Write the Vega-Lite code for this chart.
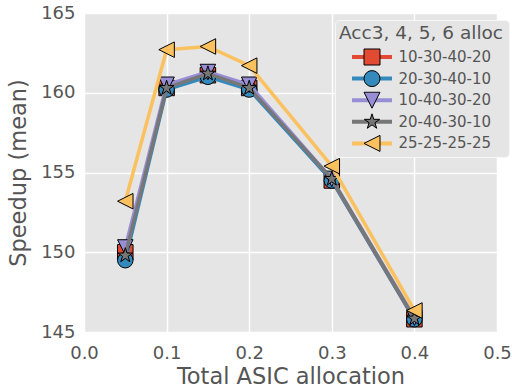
{
  "$schema": "https://vega.github.io/schema/vega-lite/v6.json",
  "width": 413,
  "height": 319,
  "autosize": "none",
  "padding": {"left": 84, "top": 13, "right": 15, "bottom": 55},
  "background": "white",
  "config": {
    "font": "DejaVu Sans",
    "view": {"fill": "#E5E5E5", "stroke": null},
    "axis": {
      "grid": true, "gridColor": "white", "gridWidth": 1.5, "domain": false, "ticks": false,
      "labelFontSize": 18, "labelColor": "#555555", "titleFontSize": 22.5, "titleColor": "#555555",
      "titleFontWeight": "normal", "labelFlush": false, "labelOverlap": false
    },
    "legend": {
      "orient": "none", "legendX": 251, "legendY": 7, "padding": 4,
      "titleFontSize": 18.5, "titleColor": "#555555", "titleFontWeight": "normal", "titlePadding": 5.5,
      "labelFontSize": 15, "labelColor": "#555555", "labelOffset": 18, "symbolOffset": 24.5,
      "rowPadding": 3.6, "clipHeight": 18, "symbolOpacity": 1
    }
  },
  "data": {
    "values": [
      {"x": 0.05, "y": 150.0, "s": "10-30-40-20"},
      {"x": 0.10, "y": 160.3, "s": "10-30-40-20"},
      {"x": 0.15, "y": 161.1, "s": "10-30-40-20"},
      {"x": 0.20, "y": 160.3, "s": "10-30-40-20"},
      {"x": 0.30, "y": 154.5, "s": "10-30-40-20"},
      {"x": 0.40, "y": 145.8, "s": "10-30-40-20"},
      {"x": 0.05, "y": 149.5, "s": "20-30-40-10"},
      {"x": 0.10, "y": 160.2, "s": "20-30-40-10"},
      {"x": 0.15, "y": 161.0, "s": "20-30-40-10"},
      {"x": 0.20, "y": 160.2, "s": "20-30-40-10"},
      {"x": 0.30, "y": 154.5, "s": "20-30-40-10"},
      {"x": 0.40, "y": 145.8, "s": "20-30-40-10"},
      {"x": 0.05, "y": 150.3, "s": "10-40-30-20"},
      {"x": 0.10, "y": 160.5, "s": "10-40-30-20"},
      {"x": 0.15, "y": 161.3, "s": "10-40-30-20"},
      {"x": 0.20, "y": 160.5, "s": "10-40-30-20"},
      {"x": 0.30, "y": 154.6, "s": "10-40-30-20"},
      {"x": 0.40, "y": 145.9, "s": "10-40-30-20"},
      {"x": 0.05, "y": 149.8, "s": "20-40-30-10"},
      {"x": 0.10, "y": 160.3, "s": "20-40-30-10"},
      {"x": 0.15, "y": 161.2, "s": "20-40-30-10"},
      {"x": 0.20, "y": 160.3, "s": "20-40-30-10"},
      {"x": 0.30, "y": 154.6, "s": "20-40-30-10"},
      {"x": 0.40, "y": 145.85, "s": "20-40-30-10"},
      {"x": 0.05, "y": 153.2, "s": "25-25-25-25"},
      {"x": 0.10, "y": 162.7, "s": "25-25-25-25"},
      {"x": 0.15, "y": 162.9, "s": "25-25-25-25"},
      {"x": 0.20, "y": 161.7, "s": "25-25-25-25"},
      {"x": 0.30, "y": 155.4, "s": "25-25-25-25"},
      {"x": 0.40, "y": 146.35, "s": "25-25-25-25"}
    ]
  },
  "encoding": {
    "x": {"field": "x", "type": "quantitative", "scale": {"domain": [0, 0.5], "nice": false, "zero": false},
      "axis": {"title": "Total ASIC allocation", "values": [0, 0.1, 0.2, 0.3, 0.4, 0.5], "format": ".1f", "labelPadding": 12, "titlePadding": 3}},
    "y": {"field": "y", "type": "quantitative", "scale": {"domain": [145, 165], "nice": false, "zero": false},
      "axis": {"title": "Speedup (mean)", "values": [145, 150, 155, 160, 165], "format": "d", "labelPadding": 9, "titlePadding": 10}}
  },
  "layer": [
    {"transform": [{"filter": "datum.s === '10-30-40-20'"}],
     "mark": {"type": "line", "strokeWidth": 3.5, "strokeJoin": "round"},
     "encoding": {"stroke": {"field": "s", "type": "nominal", "scale": {"range": ["#E24A33", "#988ED5", "#348ABD", "#777777", "#FBC15E"]},
       "legend": {"title": "Acc3, 4, 5, 6 alloc", "values": ["10-30-40-20", "20-30-40-10", "10-40-30-20", "20-40-30-10", "25-25-25-25"], "fillColor": "#E5E5E5", "strokeColor": "#F7F7F7", "cornerRadius": 4, "titleColor": "transparent", "labelColor": "transparent", "symbolType": "stroke", "symbolSize": 1600, "symbolStrokeWidth": 4, "symbolOffset": 11}}}},
    {"transform": [{"filter": "datum.s === '10-30-40-20'"}],
     "mark": {"type": "point", "filled": true, "opacity": 1, "stroke": "black", "strokeWidth": 1, "size": 240},
     "encoding": {
       "fill": {"field": "s", "type": "nominal", "scale": {"domain": ["10-30-40-20", "20-30-40-10", "10-40-30-20", "20-40-30-10", "25-25-25-25"], "range": ["#E24A33", "#348ABD", "#988ED5", "#777777", "#FBC15E"]},
         "legend": {"title": "Acc3, 4, 5, 6 alloc", "symbolSize": 256, "symbolStrokeColor": "black", "symbolStrokeWidth": 1}},
       "shape": {"field": "s", "type": "nominal", "scale": {"domain": ["10-30-40-20", "20-30-40-10", "10-40-30-20", "20-40-30-10", "25-25-25-25"], "range": ["square", "circle", "M-1,-1L1,-1L0,1Z", "M0,-1L0.2245,-0.309L0.951,-0.309L0.3633,0.118L0.588,0.809L0,0.382L-0.588,0.809L-0.3633,0.118L-0.951,-0.309L-0.2245,-0.309Z", "M-1,0L1,-1L1,1Z"]}}
     }},
    {"transform": [{"filter": "datum.s === '20-30-40-10'"}],
     "mark": {"type": "line", "strokeWidth": 3.5, "strokeJoin": "round"},
     "encoding": {"stroke": {"field": "s", "type": "nominal"}}},
    {"transform": [{"filter": "datum.s === '20-30-40-10'"}],
     "mark": {"type": "point", "filled": true, "opacity": 1, "stroke": "black", "strokeWidth": 1, "size": 240},
     "encoding": {"fill": {"field": "s", "type": "nominal"}, "shape": {"field": "s", "type": "nominal"}}},
    {"transform": [{"filter": "datum.s === '10-40-30-20'"}],
     "mark": {"type": "line", "strokeWidth": 3.5, "strokeJoin": "round"},
     "encoding": {"stroke": {"field": "s", "type": "nominal"}}},
    {"transform": [{"filter": "datum.s === '10-40-30-20'"}],
     "mark": {"type": "point", "filled": true, "opacity": 1, "stroke": "black", "strokeWidth": 1, "size": 240},
     "encoding": {"fill": {"field": "s", "type": "nominal"}, "shape": {"field": "s", "type": "nominal"}}},
    {"transform": [{"filter": "datum.s === '20-40-30-10'"}],
     "mark": {"type": "line", "strokeWidth": 3.5, "strokeJoin": "round"},
     "encoding": {"stroke": {"field": "s", "type": "nominal"}}},
    {"transform": [{"filter": "datum.s === '20-40-30-10'"}],
     "mark": {"type": "point", "filled": true, "opacity": 1, "stroke": "black", "strokeWidth": 1, "size": 240},
     "encoding": {"fill": {"field": "s", "type": "nominal"}, "shape": {"field": "s", "type": "nominal"}}},
    {"transform": [{"filter": "datum.s === '25-25-25-25'"}],
     "mark": {"type": "line", "strokeWidth": 3.5, "strokeJoin": "round"},
     "encoding": {"stroke": {"field": "s", "type": "nominal"}}},
    {"transform": [{"filter": "datum.s === '25-25-25-25'"}],
     "mark": {"type": "point", "filled": true, "opacity": 1, "stroke": "black", "strokeWidth": 1, "size": 240},
     "encoding": {"fill": {"field": "s", "type": "nominal"}, "shape": {"field": "s", "type": "nominal"}}}
  ]
}
